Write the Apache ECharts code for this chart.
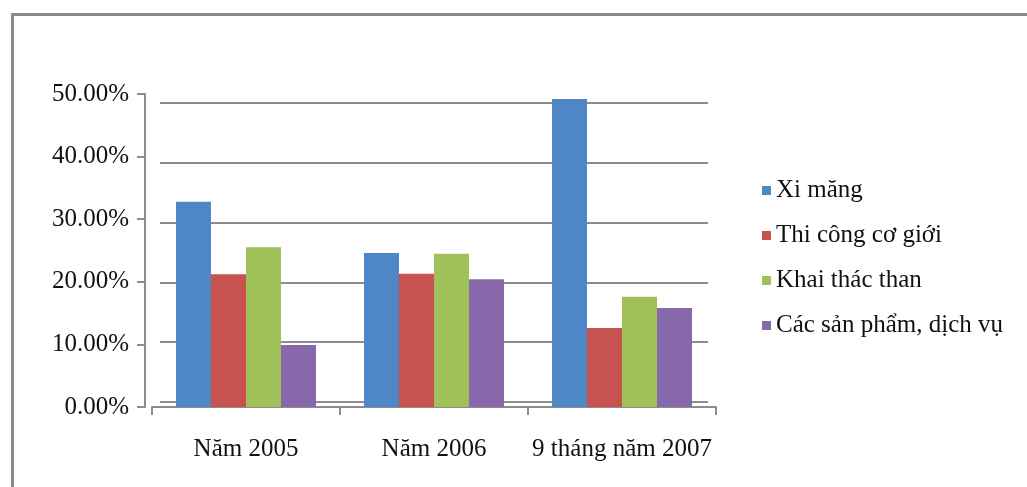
<!DOCTYPE html>
<html><head><meta charset="utf-8">
<script src="https://cdn.jsdelivr.net/npm/echarts@6/dist/echarts.min.js"></script>
<style>html,body{margin:0;padding:0;background:#fff}#c{width:1027px;height:487px}</style>
</head><body><div id="c"></div>
<script>
const categories = ['Năm 2005', 'Năm 2006', '9 tháng năm 2007'];
const seriesNames = ['Xi măng', 'Thi công cơ giới', 'Khai thác than', 'Các sản phẩm, dịch vụ'];
const ximang = [32.8, 24.6, 49.2];
const thicong = [21.2, 21.3, 12.6];
const khaithac = [25.5, 24.5, 17.6];
const sanpham = [9.9, 20.4, 15.8];
const colors = ['#4f86c6', '#c8524f', '#a0c05a', '#8769ab'];
const yMin = 0, yMax = 50, yStep = 10;

const font = '"Liberation Serif", "Times New Roman", serif';
const chart = echarts.init(document.getElementById('c'));
const values = [ximang, thicong, khaithac, sanpham];
chart.setOption({
  backgroundColor: '#fff',
  animation: false,
  color: colors,
  graphic: [{
    type: 'rect', left: 10, top: 12, shape: { width: 1100, height: 600 },
    style: { fill: 'none', stroke: '#8a8a8a', lineWidth: 3 }, z: -10
  }],
  legend: {
    orient: 'vertical', left: 757, top: 173,
    itemWidth: 9, itemHeight: 9, itemGap: 20, icon: 'rect',
    textStyle: { fontFamily: font, fontSize: 25, color: '#111', lineHeight: 25 },
    data: seriesNames
  },
  grid: [
    { left: 152, right: 311, top: 94, bottom: 80 },
    { left: 160, right: 319, top: 103, bottom: 85 }
  ],
  xAxis: [{
    type: 'category', gridIndex: 0, data: categories,
    axisLine: { lineStyle: { color: '#8c8c8c', width: 2 } },
    axisTick: { show: true, length: 8, lineStyle: { color: '#8c8c8c', width: 2 } },
    axisLabel: { fontFamily: font, fontSize: 25, color: '#111', margin: 30, interval: 0 }
  }, {
    type: 'category', gridIndex: 1, data: categories, show: false
  }],
  yAxis: [{
    type: 'value', gridIndex: 0, min: yMin, max: yMax, interval: yStep, offset: 7,
    axisLine: { show: true, lineStyle: { color: '#8c8c8c', width: 2 } },
    axisTick: { show: true, length: 8, lineStyle: { color: '#8c8c8c', width: 2 } },
    splitLine: { show: false },
    axisLabel: { fontFamily: font, fontSize: 25, color: '#111', margin: 16,
      formatter: v => v.toFixed(2) + '%' }
  }, {
    type: 'value', gridIndex: 1, min: yMin, max: yMax, interval: yStep,
    axisLine: { show: false }, axisTick: { show: false }, axisLabel: { show: false },
    splitLine: { show: true, lineStyle: { color: '#8c8c8c', width: 2 } }
  }],
  series: seriesNames.map((n, i) => ({
    name: n, type: 'bar', xAxisIndex: 0, yAxisIndex: 0,
    data: values[i], barGap: '0%', barCategoryGap: '25.5%', z: 3,
    itemStyle: { color: colors[i] }
  }))
});
</script></body></html>
